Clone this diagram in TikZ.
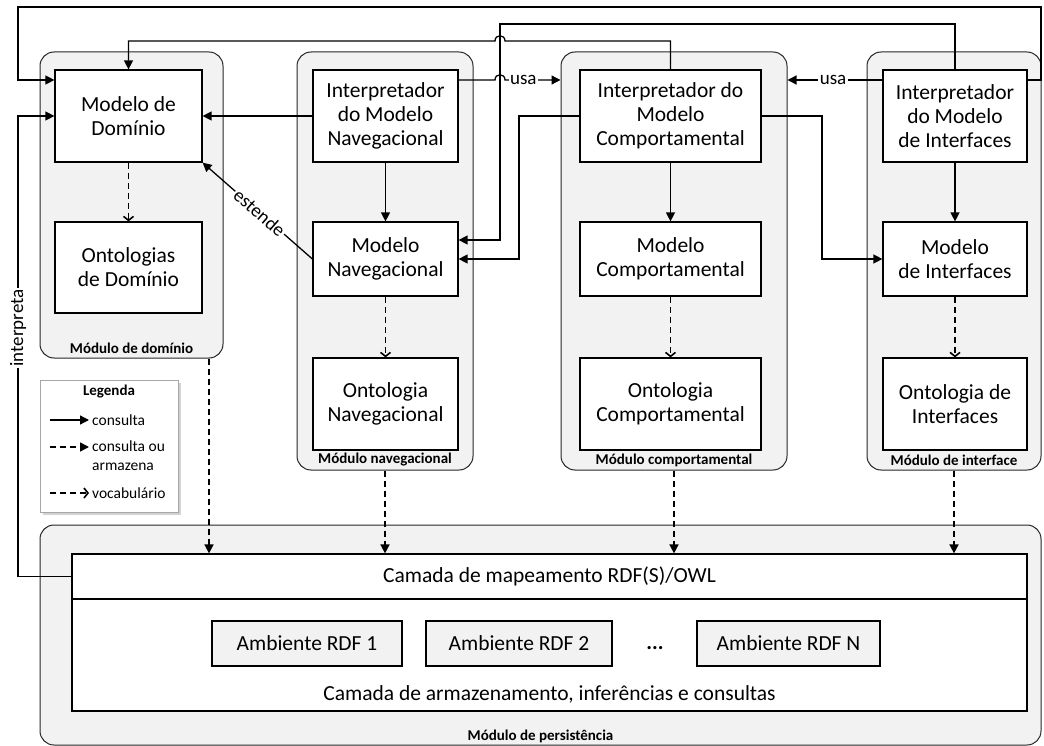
\documentclass[tikz,border=0pt]{standalone}
\usepackage{fontspec}
\setmainfont{Carlito}
\usetikzlibrary{arrows.meta,shadows,calc}

\begin{document}
\begin{tikzpicture}[x=1pt,y=-1pt,
  module/.style={draw=black!85,fill=black!5,rounded corners=14pt,line width=1pt,inner sep=0pt},
  box/.style={draw=black,fill=white,line width=1.2pt,align=center,inner sep=0pt,font=\fontsize{21.5}{24}\selectfont},
  envbox/.style={box,fill=black!5},
  plain/.style={inner sep=0pt,font=\fontsize{21.5}{24}\selectfont},
  modlabel/.style={inner sep=0pt,font=\fontsize{15}{18}\selectfont\bfseries},
  lbl/.style={fill=white,inner sep=1.5pt,font=\fontsize{19}{22}\selectfont},
  legtext/.style={inner sep=0pt,anchor=west,align=left,font=\fontsize{15.5}{19}\selectfont},
  cons/.style={line width=1.3pt,-{Triangle[length=9pt,width=9pt]}},
  store/.style={line width=1.6pt,dash pattern=on 6pt off 4pt,-{Triangle[length=9pt,width=9pt]}},
  vocab/.style={line width=1.6pt,dash pattern=on 6pt off 4pt,-{Straight Barb[length=4pt,width=10pt,line width=1.6pt]}},
]
\useasboundingbox (0,0) rectangle (1044,746);

% ---------- modules ----------
\node[module,minimum width=183pt,minimum height=306pt] (modDom)  at (131.5,205) {};
\node[module,minimum width=176pt,minimum height=418pt] (modNav)  at (385,261) {};
\node[module,minimum width=226pt,minimum height=418pt] (modComp) at (674,261) {};
\node[module,minimum width=174pt,minimum height=418pt] (modInt)  at (954,261) {};
\node[module,minimum width=1001pt,minimum height=220pt] (modPers) at (540.5,635) {};

\node[modlabel] (labDom)  at (131.5,348) {Módulo de domínio};
\node[modlabel] (labNav)  at (385,460) {Módulo navegacional};
\node[modlabel] (labComp) at (674,460) {Módulo comportamental};
\node[modlabel] (labInt)  at (954,460) {Módulo de interface};
\node[modlabel] (labPers) at (540.5,736) {Módulo de persistência};

% ---------- boxes ----------
\node[box,minimum width=147pt,minimum height=92pt] (md) at (128.5,116) {Modelo de\\Domínio};
\node[box,minimum width=147pt,minimum height=91pt] (od) at (128.5,267.5) {Ontologias\\de Domínio};

\node[box,minimum width=145pt,minimum height=92pt] (inav) at (385.5,116) {Interpretador\\do Modelo\\Navegacional};
\node[box,minimum width=145pt,minimum height=74pt] (mnav) at (385.5,259) {Modelo\\Navegacional};
\node[box,minimum width=145pt,minimum height=92pt] (onav) at (385.5,404) {Ontologia\\Navegacional};

\node[box,minimum width=181pt,minimum height=92pt] (icomp) at (670.5,116) {Interpretador do\\Modelo\\Comportamental};
\node[box,minimum width=181pt,minimum height=74pt] (mcomp) at (670.5,259) {Modelo\\Comportamental};
\node[box,minimum width=181pt,minimum height=92pt] (ocomp) at (670.5,404) {Ontologia\\Comportamental};

\node[box,minimum width=144pt,minimum height=92pt] (iint) at (955,116) {Interpretador\\do Modelo\\de Interfaces};
\node[box,minimum width=144pt,minimum height=74pt] (mint) at (955,259) {Modelo\\de Interfaces};
\node[box,minimum width=144pt,minimum height=92pt] (oint) at (955,404) {Ontologia de\\Interfaces};

% ---------- persistence layers ----------
\node[box,minimum width=955pt,minimum height=45pt] (map) at (549.5,576.5) {Camada de mapeamento RDF(S)/OWL};
\node[box,minimum width=955pt,minimum height=112pt] (stor) at (549.5,655) {};
\node[plain] (storT) at (549.5,694) {Camada de armazenamento, inferências e consultas};
\node[envbox,minimum width=190pt,minimum height=45pt] (env1) at (307,643.5) {Ambiente RDF 1};
\node[envbox,minimum width=186pt,minimum height=45pt] (env2) at (519,643.5) {Ambiente RDF 2};
\node[plain,font=\fontsize{21.5}{24}\selectfont\bfseries] (dots) at (655,648) {...};
\node[envbox,minimum width=183pt,minimum height=45pt] (envN) at (788.5,643.5) {Ambiente RDF N};

% ---------- routing levels ----------
\coordinate (yA) at (0,7);
\coordinate (yB) at (0,24);
\coordinate (yC) at (0,41);
\coordinate (yU) at (0,80);
\coordinate (yI) at (0,116);
\coordinate (xL) at (18,0);
\coordinate (xR) at (1041,0);
\coordinate (xV1) at (500,0);
\coordinate (xV2) at (519,0);
\coordinate (xV3) at (822,0);
\coordinate (xD) at (209,0);

% ---------- connectors inside the modules ----------
\draw[vocab] (md) -- (od);
\draw[cons]  (inav) -- (mnav);
\draw[vocab] (mnav) -- (onav);
\draw[cons]  (icomp) -- (mcomp);
\draw[vocab] (mcomp) -- (ocomp);
\draw[cons]  (iint) -- (mint);
\draw[vocab] (mint) -- (oint);

% ---------- connectors between modules ----------
\draw[cons] (inav.west) -- (md.east);
\draw[cons] (mnav.west) -- node[lbl,sloped,pos=0.48] {estende} (md.south east);

% interfaces interpreter -> domain model (outer loop)
\draw[cons] (iint.east |- yU) -- (xR |- yU) -- (xR |- yA) -- (xL |- yA) -- (xL |- yU) -- (md.west |- yU);

% interfaces interpreter -> navigational model
\draw[cons] (iint.north) -- (iint.north |- yB) -- (xV1 |- yB) -- ([yshift=19pt]xV1 |- mnav.east) -- ([yshift=19pt]mnav.east);

% behavioural interpreter -> domain model (hops over the vertical line)
\draw[cons] (icomp.north) -- (icomp.north |- yC) -- (505,41)
  .. controls (505,34) and (495,34) .. (495,41) -- (md.north |- yC) -- (md.north);

% "usa" from the navigational interpreter
\draw[cons] (inav.east |- yU) -- (495,80)
  .. controls (495,73) and (505,73) .. (505,80)
  -- node[lbl,pos=0.33] {usa} (modComp.west |- yU);

% "usa" from the interfaces interpreter
\draw[cons] (iint.west |- yU) -- node[lbl,pos=0.52] {usa} (modComp.east |- yU);

% behavioural interpreter -> navigational and interfaces models
\draw[cons] (icomp.west) -- (xV2 |- icomp.west) -- (xV2 |- mnav.east) -- (mnav.east);
\draw[cons] (icomp.east) -- (xV3 |- icomp.east) -- (xV3 |- mint.west) -- (mint.west);

% mapping layer interprets the domain model
\draw[cons] (map.west) -- (xL |- map.west) -- node[lbl,pos=0.54,rotate=90] {interpreta} (xL |- yI) -- (md.west |- yI);

% modules -> persistence
\draw[store] (xD |- modDom.south) -- (xD |- map.north);
\draw[store] (modNav.south) -- (modNav.south |- map.north);
\draw[store] (modComp.south) -- (modComp.south |- map.north);
\draw[store] (modInt.south) -- (modInt.south |- map.north);

% ---------- legend ----------
\node[draw=black!35,fill=white,line width=1pt,minimum width=138pt,minimum height=132pt,
      drop shadow={shadow xshift=3pt,shadow yshift=-3pt,fill=black!35}] (leg) at (109,446) {};
\node[inner sep=0pt,font=\fontsize{15}{18}\selectfont\bfseries] (legT) at (109,392) {Legenda};
\coordinate (la1) at (50,420);  \coordinate (lb1) at (89,420);
\coordinate (la2) at (50,447);  \coordinate (lb2) at (89,447);
\coordinate (la3) at (50,493);  \coordinate (lb3) at (89,493);
\draw[cons]  (la1) -- (lb1);
\draw[store] (la2) -- (lb2);
\draw[vocab] (la3) -- (lb3);
\node[legtext] (lt1) at (92,420) {consulta};
\node[legtext] (lt2) at (92,456) {consulta ou\\armazena};
\node[legtext] (lt3) at (92,493) {vocabulário};
\end{tikzpicture}
\end{document}
